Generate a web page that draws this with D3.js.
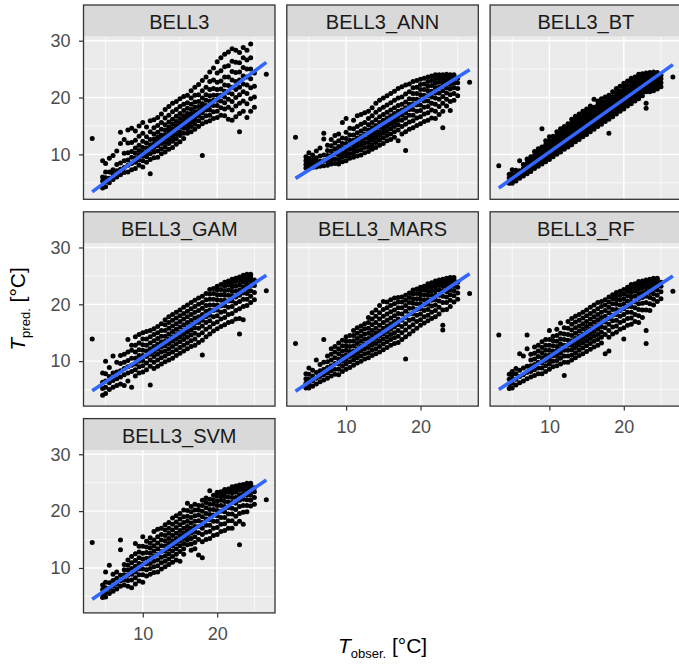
<!DOCTYPE html>
<html>
<head>
<meta charset="utf-8">
<script src="https://cdn.jsdelivr.net/npm/d3@7"></script>
<style>
  body { margin: 0; background: #fff; }
  text { font-family: "Liberation Sans", Arial, Helvetica, sans-serif; }
</style>
</head>
<body>
<svg id="chart" width="679" height="670"></svg>
<script>
const models = ["BELL3", "BELL3_ANN", "BELL3_BT", "BELL3_GAM", "BELL3_MARS", "BELL3_RF", "BELL3_SVM"];

// observed temperature (same test set in every panel), one group per observed value
const obs = [3.2,
  4.6,4.6,4.6,4.6, 5,5,5,5,5, 5.5,5.5,5.5,5.5, 6,6,6,6, 6.5,6.5,6.5,6.5, 7,7,7,7,7, 7.5,7.5,7.5,7.5,7.5,
  8,8,8,8,8,8, 8.5,8.5,8.5,8.5,8.5,8.5, 9,9,9,9,9,9,9, 9.5,9.5,9.5,9.5,9.5,9.5,9.5,
  10,10,10,10,10,10,10,10, 10.5,10.5,10.5,10.5,10.5,10.5,10.5, 11,11,11,11,11,11,11,11, 11.5,11.5,11.5,11.5,11.5,11.5,11.5,11.5,
  12,12,12,12,12,12,12,12, 12.5,12.5,12.5,12.5,12.5,12.5,12.5,12.5,
  13,13,13,13,13,13,13,13,13, 13.5,13.5,13.5,13.5,13.5,13.5,13.5,13.5,13.5, 14,14,14,14,14,14,14,14,14,
  14.5,14.5,14.5,14.5,14.5,14.5,14.5,14.5,14.5, 15,15,15,15,15,15,15,15,15, 15.5,15.5,15.5,15.5,15.5,15.5,15.5,15.5,15.5,
  16,16,16,16,16,16,16,16,16, 16.5,16.5,16.5,16.5,16.5,16.5,16.5,16.5,16.5, 17,17,17,17,17,17,17,17,17,
  17.5,17.5,17.5,17.5,17.5,17.5,17.5,17.5, 18,18,18,18,18,18,18,18,18, 18.5,18.5,18.5,18.5,18.5,18.5,18.5,18.5,
  19,19,19,19,19,19,19,19,19, 19.5,19.5,19.5,19.5,19.5,19.5,19.5,19.5, 20,20,20,20,20,20,20,20,20,
  20.5,20.5,20.5,20.5,20.5,20.5,20.5,20.5, 21,21,21,21,21,21,21,21,21, 21.5,21.5,21.5,21.5,21.5,21.5,21.5,21.5,
  22,22,22,22,22,22,22,22,22, 22.5,22.5,22.5,22.5,22.5,22.5,22.5,22.5, 23,23,23,23,23,23,23,23,23,
  23.5,23.5,23.5,23.5,23.5,23.5,23.5,23.5, 24,24,24,24,24,24,24,24, 24.5,24.5,24.5,24.5,24.5,24.5,24.5,
  25,25,25,25, 26.6];

const predBELL3 = [12.8,
  4.1,5.3,6.0,8.9, 4.3,5.2,5.9,6.9,8.4, 5.0,5.8,6.9,9.3, 5.6,6.5,7.3,9.8, 6.0,7.1,8.2,10.6, 6.4,7.4,8.5,11.9,13.9, 6.8,7.7,8.9,10.2,12.6,
  6.9,8.1,9.0,10.3,12.0,14.3, 7.3,8.4,9.5,10.5,12.1,14.6, 7.5,8.6,9.3,10.2,11.1,12.5,14.1, 8.1,9.0,9.9,10.7,11.6,13.2,15.0,
  7.8,8.9,9.7,10.4,11.2,12.3,13.7,15.6, 8.6,9.6,10.3,11.1,12.0,13.1,14.8, 6.6,9.1,10.1,10.9,11.7,12.6,14.0,15.9, 9.4,10.4,11.2,11.9,12.7,13.6,14.7,16.1,
  9.5,10.6,11.5,12.3,13.0,13.9,15.1,16.5, 10.1,11.0,11.9,12.6,13.4,14.4,15.6,17.1,
  10.4,11.3,12.1,12.8,13.5,14.3,15.2,16.4,17.9, 10.9,11.9,12.6,13.4,14.1,14.8,15.7,16.9,18.4, 11.2,12.3,13.1,13.8,14.5,15.3,16.2,17.5,19.0,
  11.8,12.7,13.5,14.3,15.0,15.8,16.7,17.9,19.3, 12.2,13.3,14.0,14.8,15.5,16.3,17.2,18.4,19.8, 12.8,13.7,14.6,15.3,16.0,16.8,17.7,18.8,20.2,
  13.7,14.5,15.2,15.8,16.5,17.2,18.1,19.1,20.4, 14.0,14.9,15.7,16.4,17.1,17.9,18.8,19.9,21.2, 14.4,15.3,16.1,16.8,17.5,18.3,19.2,20.4,21.8,
  14.9,15.9,16.8,17.6,18.4,19.3,20.5,22.3, 9.8,15.4,16.4,17.3,18.1,18.9,19.9,21.2,23.0, 15.7,16.8,17.8,18.6,19.5,20.5,21.8,23.6,
  15.9,16.9,17.8,18.6,19.4,20.3,21.4,22.8,24.5, 16.3,17.5,18.6,19.5,20.4,21.6,23.1,25.2, 16.5,17.6,18.6,19.5,20.4,21.4,22.7,24.3,26.3,
  16.9,18.2,19.4,20.4,21.5,22.9,24.7,27.0, 16.8,18.0,19.1,20.1,21.1,22.2,23.6,25.4,27.6, 16.2,18.3,19.7,20.9,22.1,23.6,25.6,28.0,
  16.0,17.8,19.3,20.6,21.8,23.1,24.6,26.4,28.6, 16.6,18.5,20.0,21.4,22.8,24.4,26.2,28.3, 14.0,17.2,19.0,20.5,21.8,23.1,24.5,26.1,27.9,
  17.6,19.4,21.0,22.4,23.8,25.3,27.0,28.8, 16.5,18.9,20.7,22.2,23.6,25.0,26.6,28.3, 17.6,19.8,21.7,23.3,25.0,27.0,29.4,
  18.3,20.1,22.0,24.3, 24.1];

const predANN = [13.0,
  7.6,8.2,8.9,9.6, 7.6,8.1,8.7,9.3,10.3, 7.7,8.4,9.1,9.9, 7.8,8.6,9.4,10.6, 7.9,8.8,9.7,11.1, 8.0,8.9,9.9,12.7,13.7, 8.1,8.9,9.8,10.7,11.6,
  8.3,9.0,9.8,10.6,11.5,12.6, 8.4,9.2,10.1,11.0,12.0,13.3, 8.3,9.0,9.8,10.6,11.4,12.4,13.6, 8.7,9.5,10.3,11.1,11.9,12.9,15.6,
  8.9,9.7,10.4,11.1,11.9,12.8,13.9,16.3, 9.3,10.1,10.9,11.7,12.5,13.4,14.6, 9.5,10.3,11.0,11.7,12.5,13.4,14.5,16.0, 9.7,10.6,11.4,12.1,12.9,13.8,14.9,16.8,
  9.9,10.8,11.6,12.4,13.2,14.1,15.3,17.0, 10.3,11.2,12.0,12.8,13.6,14.5,15.6,17.3,
  10.5,11.3,12.1,12.8,13.5,14.3,15.2,16.3,17.6, 10.9,11.7,12.5,13.2,13.9,14.7,15.6,16.8,18.2, 11.2,12.1,12.9,13.6,14.3,15.1,16.1,17.4,19.0,
  11.6,12.5,13.3,14.0,14.8,15.6,16.6,17.9,19.5, 11.9,12.9,13.7,14.5,15.2,16.0,17.0,18.3,19.9, 12.4,13.3,14.1,14.9,15.6,16.4,17.4,18.7,20.3,
  12.6,13.6,14.5,15.3,16.0,16.8,17.8,19.1,20.7, 13.0,14.0,14.9,15.7,16.4,17.2,18.2,19.5,21.1, 12.4,14.3,15.2,16.0,16.8,17.6,18.6,19.9,21.6,
  13.6,14.9,16.0,16.9,17.8,18.8,20.1,21.9, 10.7,14.0,15.3,16.4,17.3,18.2,19.2,20.6,22.2, 14.4,15.7,16.9,17.9,18.8,19.8,21.0,22.4,
  14.7,15.9,16.9,17.9,18.8,19.7,20.7,21.7,22.8, 15.1,16.4,17.6,18.7,19.7,20.7,21.8,23.0, 15.4,16.6,17.7,18.7,19.6,20.5,21.4,22.3,23.2,
  15.8,17.1,18.3,19.4,20.4,21.4,22.4,23.4, 16.0,17.3,18.4,19.4,20.3,21.2,22.0,22.8,23.6, 16.4,17.8,19.0,20.1,21.1,22.1,23.0,23.8,
  16.3,17.6,18.8,19.9,20.8,21.7,22.5,23.3,24.0, 17.0,18.4,19.7,20.8,21.8,22.7,23.4,24.0, 14.7,17.6,19.0,20.2,21.2,22.1,22.8,23.5,24.0,
  18.5,19.7,20.8,21.7,22.5,23.2,23.7,24.1, 17.7,19.3,20.5,21.5,22.3,23.0,23.6,24.0, 19.5,20.7,21.7,22.5,23.2,23.7,24.0,
  20.3,21.6,22.6,23.4, 22.7];

const predBT = [8.0,
  4.9,5.4,5.9,6.5, 4.9,5.4,5.9,6.5,7.3, 5.3,5.9,6.5,7.2, 5.8,6.4,7.1,8.9, 6.2,6.8,7.5,8.2, 6.6,7.2,7.8,8.5,9.2, 7.0,7.6,8.2,8.9,9.6,
  7.5,8.0,8.6,9.2,9.8,10.5, 7.9,8.5,9.1,9.7,10.3,11.0, 8.3,8.9,9.4,10.0,10.6,11.3,14.5, 8.7,9.3,9.9,10.5,11.1,11.7,12.4,
  9.1,9.7,10.2,10.7,11.2,11.8,12.4,13.1, 9.6,10.2,10.8,11.3,11.9,12.5,13.2, 10.0,10.6,11.1,11.6,12.1,12.7,13.3,14.0, 10.4,11.0,11.5,12.0,12.6,13.2,13.8,14.5,
  10.9,11.5,12.0,12.5,13.0,13.6,14.2,14.9, 11.3,11.9,12.4,12.9,13.5,14.1,14.7,15.4,
  11.7,12.3,12.8,13.3,13.8,14.3,14.9,15.5,16.2, 12.2,12.7,13.2,13.7,14.2,14.8,15.4,16.0,16.7, 12.6,13.2,13.7,14.2,14.7,15.2,15.8,16.4,17.1,
  13.1,13.6,14.1,14.6,15.1,15.7,16.3,16.9,17.6, 13.5,14.1,14.6,15.1,15.6,16.1,16.7,17.3,18.0, 14.0,14.5,15.0,15.5,16.0,16.6,17.2,17.8,18.5,
  14.4,15.0,15.5,16.0,16.5,17.0,17.6,18.3,19.7, 14.9,15.4,15.9,16.4,16.9,17.5,18.1,18.7,19.4, 15.3,15.9,16.4,16.9,17.4,17.9,18.5,19.1,19.8,
  15.8,16.4,17.0,17.5,18.0,18.6,19.3,20.1, 13.7,16.2,16.8,17.3,17.8,18.4,19.0,19.7,20.4, 16.6,17.2,17.8,18.4,18.9,19.5,20.2,21.0,
  17.1,17.7,18.2,18.7,19.2,19.7,20.3,20.9,21.6, 17.6,18.2,18.8,19.4,19.9,20.5,21.2,22.0, 18.0,18.6,19.1,19.6,20.1,20.6,21.2,21.8,22.5,
  18.5,19.1,19.7,20.3,20.8,21.4,22.1,22.9, 18.9,19.5,20.0,20.5,21.0,21.5,22.1,22.7,23.4, 19.4,20.0,20.6,21.2,21.7,22.3,22.9,23.6,
  19.8,20.4,20.9,21.4,21.9,22.4,22.9,23.5,24.1, 20.3,20.9,21.5,22.0,22.5,23.0,23.6,24.2, 18.1,19.0,21.0,21.6,22.1,22.6,23.1,23.7,24.3,
  21.0,21.6,22.1,22.6,23.1,23.6,24.0,24.4, 21.2,21.8,22.3,22.8,23.3,23.7,24.1,24.5, 21.5,22.1,22.7,23.2,23.7,24.1,24.4,
  21.9,22.6,23.3,23.9, 23.6];

const predGAM = [13.9,
  4.0,5.2,6.3,7.9, 4.3,5.4,6.5,7.8,10.0, 5.0,6.2,7.3,8.9, 5.4,6.6,7.9,10.9, 5.7,6.9,8.1,9.8, 6.0,7.2,8.3,9.6,11.0, 5.7,7.6,8.7,9.8,11.2,
  6.5,7.9,9.0,10.1,11.6,13.8, 5.4,8.2,9.3,10.5,11.9,12.8, 7.4,8.5,9.5,10.5,11.6,12.8,14.3, 7.9,9.0,10.0,11.0,12.0,13.2,14.7,
  8.1,9.2,10.1,11.0,11.9,12.9,13.9,15.0, 8.5,9.7,10.8,11.8,12.8,13.9,15.2, 5.8,9.1,10.2,11.2,12.2,13.2,14.3,15.4, 8.7,9.8,10.8,11.7,12.6,13.6,14.7,15.7,
  9.1,10.2,11.2,12.1,13.0,14.0,15.0,16.1, 9.5,10.6,11.6,12.5,13.4,14.4,15.4,16.6,
  9.9,10.9,11.8,12.7,13.5,14.4,15.4,16.4,17.3, 10.2,11.3,12.2,13.1,13.9,14.8,15.8,16.8,17.8, 10.5,11.6,12.6,13.5,14.3,15.2,16.2,17.2,18.2,
  11.0,12.0,13.0,13.9,14.7,15.6,16.6,17.6,18.6, 11.4,12.4,13.4,14.3,15.1,16.0,17.0,18.0,19.0, 11.8,12.8,13.8,14.7,15.5,16.4,17.4,18.4,19.5,
  12.2,13.2,14.2,15.1,15.9,16.8,17.8,18.8,19.9, 12.6,13.6,14.6,15.5,16.3,17.2,18.2,19.2,20.3, 12.8,13.9,14.9,15.9,16.7,17.6,18.6,19.6,20.7,
  13.3,14.6,15.8,16.8,17.8,18.9,20.0,21.1, 11.1,13.7,15.0,16.2,17.2,18.2,19.3,20.3,21.4, 14.3,15.6,16.8,17.8,18.8,19.8,20.8,21.9,
  14.8,16.0,17.1,18.1,19.0,19.9,20.9,21.8,22.6, 15.3,16.6,17.8,18.9,19.9,20.9,21.9,22.8, 15.7,16.9,18.0,19.0,19.9,20.8,21.7,22.5,23.2,
  16.1,17.4,18.6,19.7,20.7,21.7,22.6,23.5, 16.4,17.7,18.8,19.8,20.7,21.6,22.4,23.2,23.9, 16.8,18.2,19.5,20.6,21.6,22.5,23.4,24.1,
  17.0,18.4,19.6,20.6,21.5,22.3,23.1,23.8,24.4, 17.4,18.9,20.2,21.3,22.3,23.2,24.0,24.6, 14.8,17.5,19.2,20.5,21.6,22.5,23.4,24.2,24.8,
  17.3,19.6,20.9,22.0,23.0,23.9,24.6,25.1, 19.8,20.9,21.9,22.7,23.5,24.2,24.8,25.3, 20.3,21.4,22.4,23.3,24.1,24.8,25.3,
  20.8,22.1,23.3,24.3, 22.4];

const predMARS = [13.1,
  5.3,6.1,6.9,7.8, 5.3,6.0,6.8,7.7,8.8, 5.6,6.5,7.4,8.4, 6.0,7.0,8.0,10.2, 6.4,7.3,8.3,9.4, 6.7,7.6,8.6,9.8,13.8, 7.0,7.9,8.9,9.9,10.9,
  7.4,8.3,9.2,10.2,11.2,12.2, 7.7,8.6,9.6,10.6,11.6,12.6, 7.6,8.6,9.5,10.4,11.3,12.2,13.2, 8.2,9.1,10.0,10.9,11.8,12.7,13.7,
  8.6,9.5,10.3,11.1,11.9,12.7,13.5,14.3, 8.9,9.9,10.8,11.7,12.6,13.5,14.5, 9.3,10.2,11.0,11.8,12.7,13.6,14.5,15.4, 9.7,10.6,11.4,12.2,13.1,14.0,14.9,15.9,
  10.0,10.9,11.8,12.6,13.5,14.4,15.3,16.2, 10.4,11.3,12.2,13.0,13.9,14.8,15.7,16.6,
  10.6,11.5,12.4,13.2,14.0,14.9,15.8,16.8,17.7, 11.0,11.9,12.8,13.6,14.5,15.4,16.4,17.4,18.5, 11.3,12.2,13.1,14.0,14.9,15.8,16.8,17.9,19.0,
  11.6,12.6,13.5,14.4,15.3,16.3,17.4,18.5,19.8, 12.0,13.0,13.9,14.8,15.8,16.8,17.9,19.1,20.5, 12.4,13.4,14.3,15.2,16.2,17.2,18.3,19.4,20.4,
  12.8,13.8,14.7,15.6,16.6,17.6,18.7,19.8,20.8, 13.1,14.1,15.0,16.0,17.0,18.0,19.0,20.1,21.1, 13.3,14.4,15.4,16.4,17.4,18.4,19.4,20.4,21.2,
  13.8,15.0,16.1,17.2,18.3,19.4,20.4,21.3, 10.4,14.3,15.5,16.6,17.7,18.8,19.8,20.7,21.6, 14.8,16.0,17.2,18.3,19.3,20.3,21.2,22.0,
  15.3,16.4,17.4,18.4,19.3,20.2,21.0,21.8,22.5, 15.8,17.0,18.1,19.1,20.1,21.0,21.9,22.7, 16.3,17.3,18.3,19.2,20.1,20.9,21.7,22.4,23.0,
  16.7,17.8,18.9,19.9,20.8,21.7,22.5,23.2, 17.1,18.1,19.1,20.0,20.8,21.6,22.3,23.0,23.6, 17.5,18.6,19.7,20.7,21.6,22.4,23.1,23.8,
  17.8,18.9,19.9,20.8,21.6,22.4,23.1,23.7,24.1, 18.3,19.5,20.6,21.6,22.5,23.3,23.9,24.3, 15.5,16.3,19.0,20.3,21.4,22.4,23.2,23.9,24.4,
  19.1,20.3,21.3,22.2,23.0,23.7,24.2,24.6, 19.6,20.7,21.7,22.5,23.2,23.8,24.3,24.7, 20.4,21.5,22.4,23.2,23.8,24.3,24.7,
  20.9,22.0,23.0,23.9, 21.9];

const predRF = [14.6,
  5.2,6.0,6.8,7.7, 5.3,6.1,6.9,7.6,8.2, 5.8,6.8,7.8,8.7, 6.2,7.3,8.4,11.3, 6.5,7.6,8.8,10.9, 6.9,8.0,9.1,12.2,14.6, 7.2,8.2,9.2,10.2,11.2,
  7.5,8.5,9.4,10.4,11.4,12.5, 7.8,8.8,9.8,10.8,11.8,12.8, 7.8,8.8,9.7,10.6,11.5,12.4,13.4, 8.2,9.2,10.1,11.0,11.9,12.8,13.8,
  8.6,9.5,10.3,11.1,11.9,12.8,13.8,15.4, 9.0,10.0,10.9,11.8,12.7,13.6,14.4, 9.2,10.1,11.0,11.8,12.6,13.5,14.5,15.6, 9.5,10.5,11.4,12.2,13.0,13.9,14.9,16.7,
  7.5,9.8,10.9,11.9,12.8,13.8,14.8,15.9, 9.8,10.9,11.9,12.8,13.7,14.7,15.8,17.0,
  10.2,11.1,12.0,12.8,13.6,14.5,15.5,16.5,17.5, 10.6,11.5,12.4,13.2,14.0,14.9,15.9,16.9,17.9, 11.0,11.9,12.8,13.6,14.4,15.3,16.2,17.2,18.2,
  11.3,12.3,13.2,14.0,14.8,15.7,16.6,17.6,18.6, 11.7,12.7,13.6,14.4,15.2,16.1,17.0,18.0,19.0, 12.1,13.1,14.0,14.8,15.6,16.5,17.4,18.4,19.5,
  12.5,13.5,14.4,15.2,16.0,16.9,17.8,18.8,19.9, 12.8,13.8,14.7,15.6,16.4,17.3,18.2,19.2,20.3, 13.2,14.2,15.1,16.0,16.8,17.7,18.6,19.6,20.5,
  11.3,14.7,15.9,16.9,17.9,18.9,19.9,20.8, 11.8,14.2,15.4,16.5,17.5,18.5,19.5,20.4,21.3, 14.8,16.0,17.1,18.1,19.1,20.1,21.0,21.7,
  15.1,16.2,17.2,18.2,19.1,20.0,20.8,21.5,22.1, 15.6,16.8,17.9,18.9,19.9,20.8,21.6,22.3, 13.9,15.9,17.1,18.2,19.2,20.1,21.0,21.8,22.6,
  16.3,17.5,18.6,19.6,20.6,21.5,22.3,23.0, 16.5,17.6,18.6,19.6,20.5,21.3,22.1,22.8,23.5, 17.0,18.2,19.4,20.4,21.4,22.3,23.0,23.6,
  16.8,18.0,19.1,20.1,21.0,21.9,22.7,23.4,24.0, 17.7,19.0,20.2,21.2,22.1,22.9,23.6,24.1, 13.1,15.4,19.0,20.3,21.4,22.3,23.1,23.8,24.3,
  18.9,20.1,21.2,22.1,22.9,23.6,24.1,24.4, 19.9,20.9,21.8,22.6,23.3,23.9,24.3,24.6, 20.5,21.6,22.5,23.3,23.9,24.3,24.6,
  21.0,22.2,23.2,23.9, 22.3];

const predSVM = [14.5,
  4.8,5.5,6.2,7.0, 4.9,5.7,6.5,7.5,9.3, 5.5,6.4,7.4,10.5, 5.9,6.8,7.8,8.9, 6.3,7.2,8.2,9.3, 6.8,7.7,8.7,13.2,14.9, 7.0,7.9,8.8,9.7,10.6,
  6.8,7.8,8.7,9.6,10.5,11.4, 6.5,7.9,8.9,9.9,10.9,12.0, 7.2,8.3,9.3,10.3,11.3,12.5,14.3, 7.7,8.8,9.8,10.8,11.8,12.8,13.8,
  7.5,8.8,9.8,10.7,11.6,12.6,13.8,15.5, 8.6,9.7,10.7,11.7,12.7,13.7,14.7, 8.9,9.9,10.8,11.7,12.6,13.5,14.4,15.3, 9.2,10.2,11.2,12.1,13.0,13.9,14.9,16.4,
  9.3,10.4,11.4,12.4,13.4,14.4,15.5,16.8, 9.8,10.9,11.9,12.9,13.9,14.9,15.9,17.0,
  10.2,11.2,12.1,13.0,13.9,14.8,15.7,16.7,17.6, 10.6,11.6,12.5,13.4,14.3,15.2,16.1,17.0,18.0, 11.0,12.0,13.0,13.9,14.8,15.7,16.7,17.7,18.8,
  11.4,12.4,13.4,14.3,15.2,16.1,17.1,18.1,19.2, 11.2,12.9,13.9,14.8,15.7,16.6,17.6,18.6,19.6, 12.4,13.4,14.3,15.2,16.1,17.0,18.0,19.0,20.2,
  14.1,14.9,15.7,16.5,17.3,18.2,19.1,20.1,21.4, 13.1,14.2,15.2,16.1,17.0,17.9,18.9,19.9,20.8, 13.4,14.5,15.5,16.4,17.3,18.2,19.2,20.2,21.2,
  12.3,15.0,16.2,17.3,18.3,19.3,20.2,21.0, 11.8,14.6,15.9,17.0,18.0,19.0,20.0,21.0,21.9, 15.0,16.3,17.5,18.6,19.6,20.6,21.5,22.3,
  15.2,16.4,17.5,18.5,19.4,20.3,21.2,22.1,23.6, 15.7,17.0,18.2,19.3,20.3,21.2,22.0,22.8, 15.9,17.1,18.2,19.2,20.1,21.0,21.8,22.6,23.3,
  16.4,17.7,18.9,20.0,21.0,21.9,22.7,23.4, 16.6,17.8,18.9,19.9,20.8,21.7,22.5,23.2,23.8, 17.0,18.3,19.5,20.6,21.6,22.5,23.3,23.9,
  17.0,18.3,19.5,20.5,21.5,22.4,23.2,23.8,24.3, 17.8,19.1,20.3,21.4,22.4,23.3,24.0,24.4, 14.1,18.2,19.6,20.8,21.9,22.9,23.7,24.3,24.6,
  17.7,19.8,21.0,22.1,23.0,23.8,24.4,24.7, 19.9,21.0,22.0,22.9,23.6,24.2,24.6,24.9, 20.9,21.9,22.8,23.6,24.2,24.6,24.9,
  21.2,22.4,23.4,24.1, 22.0];

const preds = [predBELL3, predANN, predBT, predGAM, predMARS, predRF, predSVM];

// linear fit per panel (geom_smooth, method lm)
const fitIntercept = [0.28, 3.17, 1.13, 2.0, 1.87, 2.27, 1.63];
const fitSlope = [0.974, 0.816, 0.927, 0.869, 0.884, 0.854, 0.897];

const xBreaks = [10, 20], xMinor = [5, 15, 25];
const yBreaks = [10, 20, 30], yMinor = [5, 15, 25];

// layout
const left0 = 83.5, panelW = 191.5, colStep = 203.3;
const top0 = 5, rowStep = 206.8, stripH = 31.7, plotH = 162.6;
const nCol = 3;

preds.forEach((p, i) => {
  if (p.length !== obs.length) console.error(models[i], p.length, obs.length);
});

const svg = d3.select("#chart");

function expand(ext) {
  const d = (ext[1] - ext[0]) * 0.05;
  return [ext[0] - d, ext[1] + d];
}

const xExt = d3.extent(obs);
const fitEnds = fitIntercept.flatMap((a, i) => xExt.map(v => a + fitSlope[i] * v));
const yExt = d3.extent(preds.flat().concat(fitEnds));

const x = d3.scaleLinear().domain(expand(xExt)).range([0, panelW]);
const y = d3.scaleLinear().domain(expand(yExt)).range([plotH, 0]);

models.forEach((name, i) => {
  const col = i % nCol, row = Math.floor(i / nCol);
  const g = svg.append("g")
    .attr("transform", `translate(${left0 + col * colStep},${top0 + row * rowStep})`);

  // strip
  g.append("rect").attr("width", panelW).attr("height", stripH).attr("fill", "#d9d9d9");
  g.append("text")
    .attr("x", panelW / 2).attr("y", 24)
    .attr("text-anchor", "middle")
    .attr("font-size", 20)
    .attr("fill", "#1a1a1a")
    .text(name);

  const p = g.append("g").attr("transform", `translate(0,${stripH})`);
  p.append("rect").attr("width", panelW).attr("height", plotH).attr("fill", "#ebebeb");

  // grid
  p.selectAll(".vminor").data(xMinor).join("line")
    .attr("x1", d => x(d)).attr("x2", d => x(d)).attr("y1", 0).attr("y2", plotH)
    .attr("stroke", "#fff").attr("stroke-width", 0.7);
  p.selectAll(".hminor").data(yMinor).join("line")
    .attr("y1", d => y(d)).attr("y2", d => y(d)).attr("x1", 0).attr("x2", panelW)
    .attr("stroke", "#fff").attr("stroke-width", 0.7);
  p.selectAll(".vmajor").data(xBreaks).join("line")
    .attr("x1", d => x(d)).attr("x2", d => x(d)).attr("y1", 0).attr("y2", plotH)
    .attr("stroke", "#fff").attr("stroke-width", 1.4);
  p.selectAll(".hmajor").data(yBreaks).join("line")
    .attr("y1", d => y(d)).attr("y2", d => y(d)).attr("x1", 0).attr("x2", panelW)
    .attr("stroke", "#fff").attr("stroke-width", 1.4);

  // points
  p.selectAll(".pt").data(d3.zip(obs, preds[i])).join("circle")
    .attr("cx", d => x(d[0])).attr("cy", d => y(d[1])).attr("r", 2.5)
    .attr("fill", "#000");

  // fitted line
  p.append("line")
    .attr("x1", x(xExt[0])).attr("y1", y(fitIntercept[i] + fitSlope[i] * xExt[0]))
    .attr("x2", x(xExt[1])).attr("y2", y(fitIntercept[i] + fitSlope[i] * xExt[1]))
    .attr("stroke", "#3366ff").attr("stroke-width", 3.6);

  // border around strip + panel
  g.append("rect").attr("width", panelW).attr("height", stripH + plotH)
    .attr("fill", "none").attr("stroke", "#333").attr("stroke-width", 1.3);

  // axes
  if (col === 0) {
    const ax = p.append("g").call(d3.axisLeft(y).tickValues(yBreaks).tickSize(4.5).tickPadding(8.5));
    ax.select(".domain").remove();
    ax.selectAll("line").attr("stroke", "#333").attr("stroke-width", 1.2);
    ax.selectAll("text").attr("font-size", 18).attr("fill", "#4d4d4d")
      .attr("font-family", "Liberation Sans, Arial, sans-serif");
  }
  if (i + nCol >= models.length) {
    const ax = p.append("g").attr("transform", `translate(0,${plotH})`)
      .call(d3.axisBottom(x).tickValues(xBreaks).tickSize(4.5).tickPadding(9.7));
    ax.select(".domain").remove();
    ax.selectAll("line").attr("stroke", "#333").attr("stroke-width", 1.2);
    ax.selectAll("text").attr("font-size", 18).attr("fill", "#4d4d4d")
      .attr("font-family", "Liberation Sans, Arial, sans-serif");
  }
});

// axis titles
const panelsRight = left0 + (nCol - 1) * colStep + panelW;
const xt = svg.append("text")
  .attr("x", (left0 + panelsRight) / 2).attr("y", 653)
  .attr("text-anchor", "middle").attr("font-size", 21).attr("fill", "#000");
xt.append("tspan").attr("font-style", "italic").text("T");
xt.append("tspan").attr("font-size", 13).attr("dy", 5).text("obser.");
xt.append("tspan").attr("dy", -5).text(" [°C]");

const panelsBottom = top0 + 2 * rowStep + stripH + plotH;
const yt = svg.append("text")
  .attr("transform", `translate(25,${(top0 + panelsBottom) / 2}) rotate(-90)`)
  .attr("text-anchor", "middle").attr("font-size", 21).attr("fill", "#000");
yt.append("tspan").attr("font-style", "italic").text("T");
yt.append("tspan").attr("font-size", 13).attr("dy", 5).text("pred.");
yt.append("tspan").attr("dy", -5).text(" [°C]");
</script>
</body>
</html>
